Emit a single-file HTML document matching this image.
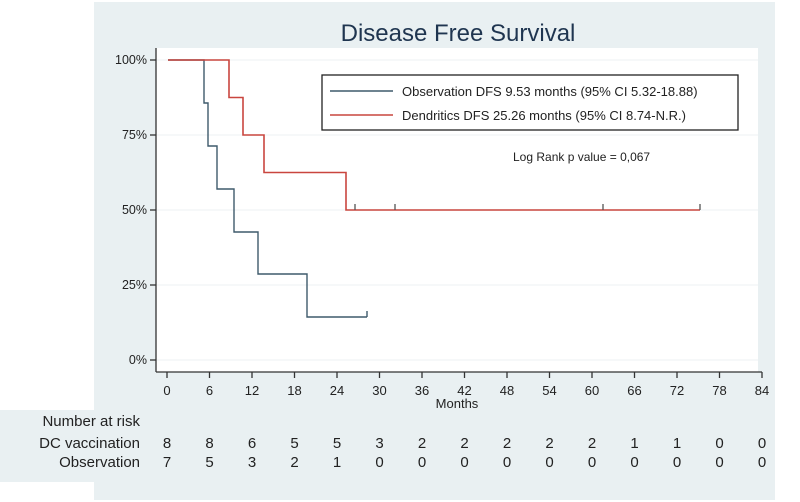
<!DOCTYPE html>
<html><head><meta charset="utf-8"><style>
body{margin:0;background:#fff;}
svg{display:block;font-family:"Liberation Sans",sans-serif;}
</style></head><body>
<svg width="800" height="502" viewBox="0 0 800 502">
<rect x="0" y="0" width="800" height="502" fill="#fff"/>
<rect x="94" y="2" width="681" height="498" fill="#e9f0f2"/>
<rect x="0" y="410" width="775" height="72" fill="#e9f0f2"/>
<rect x="156" y="48" width="602" height="324" fill="#fff"/>
<text x="458" y="41" font-size="24" fill="#1f3550" text-anchor="middle">Disease Free Survival</text>
<g stroke="#eef1f3" stroke-width="1">
<line x1="156" y1="60" x2="758" y2="60"/><line x1="156" y1="135" x2="758" y2="135"/>
<line x1="156" y1="210" x2="758" y2="210"/><line x1="156" y1="285" x2="758" y2="285"/>
<line x1="156" y1="360" x2="758" y2="360"/>
</g>
<g stroke="#333" stroke-width="1.3" fill="none">
<line x1="156" y1="48" x2="156" y2="372"/>
<line x1="156" y1="372" x2="762" y2="372"/>
<line x1="150" y1="60" x2="156" y2="60"/><line x1="150" y1="135" x2="156" y2="135"/>
<line x1="150" y1="210" x2="156" y2="210"/><line x1="150" y1="285" x2="156" y2="285"/>
<line x1="150" y1="360" x2="156" y2="360"/>
</g>
<g font-size="12.5" fill="#222" text-anchor="end">
<text x="147" y="64">100%</text><text x="147" y="139">75%</text><text x="147" y="214">50%</text>
<text x="147" y="289">25%</text><text x="147" y="364">0%</text>
</g>
<g stroke="#333" stroke-width="1.3">
<line x1="167" y1="372" x2="167" y2="378"/><line x1="209.5" y1="372" x2="209.5" y2="378"/>
<line x1="252" y1="372" x2="252" y2="378"/><line x1="294.5" y1="372" x2="294.5" y2="378"/>
<line x1="337" y1="372" x2="337" y2="378"/><line x1="379.5" y1="372" x2="379.5" y2="378"/>
<line x1="422" y1="372" x2="422" y2="378"/><line x1="464.5" y1="372" x2="464.5" y2="378"/>
<line x1="507" y1="372" x2="507" y2="378"/><line x1="549.5" y1="372" x2="549.5" y2="378"/>
<line x1="592" y1="372" x2="592" y2="378"/><line x1="634.5" y1="372" x2="634.5" y2="378"/>
<line x1="677" y1="372" x2="677" y2="378"/><line x1="719.5" y1="372" x2="719.5" y2="378"/>
<line x1="762" y1="372" x2="762" y2="378"/>
</g>
<g font-size="13" fill="#222" text-anchor="middle">
<text x="167" y="395">0</text><text x="209.5" y="395">6</text><text x="252" y="395">12</text>
<text x="294.5" y="395">18</text><text x="337" y="395">24</text><text x="379.5" y="395">30</text>
<text x="422" y="395">36</text><text x="464.5" y="395">42</text><text x="507" y="395">48</text>
<text x="549.5" y="395">54</text><text x="592" y="395">60</text><text x="634.5" y="395">66</text>
<text x="677" y="395">72</text><text x="719.5" y="395">78</text><text x="762" y="395">84</text>
<text x="457" y="408">Months</text>
</g>
<polyline fill="none" stroke="#3e5a6b" stroke-width="1.4" points="168,60 204,60 204,103 208,103 208,146 217,146 217,189 234,189 234,232 258,232 258,274 307,274 307,317 367,317"/>
<line x1="367" y1="311" x2="367" y2="317" stroke="#3e5a6b" stroke-width="1.4"/>
<polyline fill="none" stroke="#c9463f" stroke-width="1.6" points="168,60 229,60 229,97.5 243,97.5 243,135 264,135 264,172.5 346,172.5 346,210 700,210"/>
<g stroke="#555" stroke-width="1.3">
<line x1="355" y1="204" x2="355" y2="210"/><line x1="395" y1="204" x2="395" y2="210"/>
<line x1="603" y1="204" x2="603" y2="210"/><line x1="700" y1="204" x2="700" y2="210"/>
</g>
<rect x="322" y="75" width="416" height="55" fill="#fff" stroke="#222" stroke-width="1.3"/>
<line x1="330" y1="91" x2="393" y2="91" stroke="#3e5a6b" stroke-width="1.4"/>
<line x1="330" y1="115" x2="393" y2="115" stroke="#c9463f" stroke-width="1.6"/>
<text x="402" y="96" font-size="13" fill="#222">Observation DFS 9.53 months (95% CI 5.32-18.88)</text>
<text x="402" y="120" font-size="13" fill="#222">Dendritics DFS 25.26 months (95% CI 8.74-N.R.)</text>
<text x="513" y="161" font-size="12" fill="#222">Log Rank p value = 0,067</text>
<g font-size="15" fill="#222">
<text x="140" y="426" text-anchor="end">Number at risk</text>
<text x="140" y="448" text-anchor="end">DC vaccination</text>
<text x="140" y="467" text-anchor="end">Observation</text>
</g>
<g font-size="15" fill="#222" text-anchor="middle">
<text x="167" y="448">8</text><text x="209.5" y="448">8</text><text x="252" y="448">6</text><text x="294.5" y="448">5</text><text x="337" y="448">5</text><text x="379.5" y="448">3</text><text x="422" y="448">2</text><text x="464.5" y="448">2</text><text x="507" y="448">2</text><text x="549.5" y="448">2</text><text x="592" y="448">2</text><text x="634.5" y="448">1</text><text x="677" y="448">1</text><text x="719.5" y="448">0</text><text x="762" y="448">0</text>
<text x="167" y="467">7</text><text x="209.5" y="467">5</text><text x="252" y="467">3</text><text x="294.5" y="467">2</text><text x="337" y="467">1</text><text x="379.5" y="467">0</text><text x="422" y="467">0</text><text x="464.5" y="467">0</text><text x="507" y="467">0</text><text x="549.5" y="467">0</text><text x="592" y="467">0</text><text x="634.5" y="467">0</text><text x="677" y="467">0</text><text x="719.5" y="467">0</text><text x="762" y="467">0</text>
</g>
</svg>
</body></html>
